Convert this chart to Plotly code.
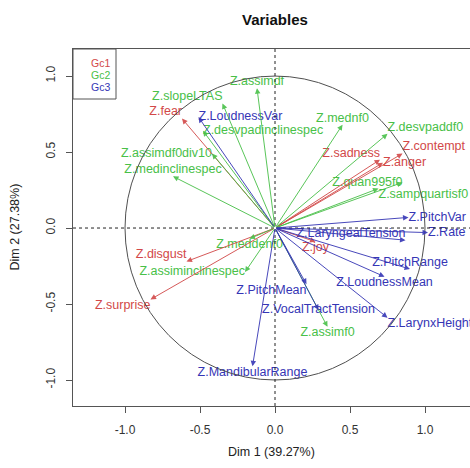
import plotly.graph_objects as go

# Correlation circle of the variables on the first two dimensions
variables = [
    "Z.fear", "Z.disgust", "Z.surprise", "Z.sadness", "Z.anger", "Z.contempt", "Z.joy",
    "Z.slopeLTAS", "Z.assimdf", "Z.desvpadinclinespec", "Z.assimdf0div10",
    "Z.medinclinespec", "Z.mednf0", "Z.desvpaddf0", "Z.quan995f0",
    "Z.sampquartisf0", "Z.meddenf0", "Z.assiminclinespec", "Z.assimf0",
    "Z.LoudnessVar", "Z.PitchVar", "Z.Rate", "Z.LaryngealTension", "Z.PitchRange",
    "Z.LoudnessMean", "Z.LarynxHeight", "Z.PitchMean", "Z.VocalTractTension",
    "Z.MandibularRange",
]
dim1 = [
    -0.62, -0.59, -0.83, 0.70, 0.72, 0.85, 0.27,
    -0.35, -0.12, -0.48, -0.42,
    -0.68, 0.45, 0.75, 0.85,
    0.69, -0.17, -0.20, 0.35,
    -0.51, 0.89, 1.02, 0.87, 0.90,
    0.73, 0.75, 0.21, 0.29,
    -0.15,
]
dim2 = [
    0.72, -0.22, -0.47, 0.45, 0.43, 0.49, -0.09,
    0.82, 0.92, 0.64, 0.49,
    0.34, 0.68, 0.62, 0.30,
    0.26, -0.07, -0.29, -0.65,
    0.73, 0.07, -0.03, -0.08, -0.27,
    -0.32, -0.59, -0.37, -0.54,
    -0.91,
]
group = [
    "Gc1", "Gc1", "Gc1", "Gc1", "Gc1", "Gc1", "Gc1",
    "Gc2", "Gc2", "Gc2", "Gc2",
    "Gc2", "Gc2", "Gc2", "Gc2",
    "Gc2", "Gc2", "Gc2", "Gc2",
    "Gc3", "Gc3", "Gc3", "Gc3", "Gc3",
    "Gc3", "Gc3", "Gc3", "Gc3",
    "Gc3",
]
groups = ["Gc1", "Gc2", "Gc3"]
x_ticks = [-1.0, -0.5, 0.0, 0.5, 1.0]
y_ticks = [-1.0, -0.5, 0.0, 0.5, 1.0]
dim1_label = "Dim 1 (39.27%)"
dim2_label = "Dim 2 (27.38%)"

colors = {"Gc1": "#d24848", "Gc2": "#48c048", "Gc3": "#3535b5"}
FONT = "Liberation Sans, Arial"

# where each variable name sits relative to its arrow tip
label_side = {
    "Z.fear": "top left", "Z.disgust": "top left", "Z.surprise": "bottom left",
    "Z.sadness": "top left", "Z.anger": "middle right", "Z.contempt": "top right",
    "Z.joy": "bottom center", "Z.slopeLTAS": "top left", "Z.assimdf": "top center",
    "Z.desvpadinclinespec": "middle right", "Z.assimdf0div10": "middle left",
    "Z.medinclinespec": "top center", "Z.mednf0": "top center",
    "Z.desvpaddf0": "top right", "Z.quan995f0": "middle left",
    "Z.sampquartisf0": "bottom right", "Z.meddenf0": "bottom center",
    "Z.assiminclinespec": "middle left", "Z.assimf0": "bottom center",
    "Z.LoudnessVar": "middle right", "Z.PitchVar": "middle right",
    "Z.Rate": "middle right", "Z.LaryngealTension": "top left",
    "Z.PitchRange": "top center", "Z.LoudnessMean": "bottom center",
    "Z.LarynxHeight": "bottom right", "Z.PitchMean": "bottom left",
    "Z.VocalTractTension": "middle center", "Z.MandibularRange": "bottom center",
}

W, H = 470, 468
ml, mr, mt, mb = 73, 0, 49, 62
x_range = [-1.3467, 1.3]
y_range = [-1.171, 1.178]

fig = go.Figure()

# variable names
for g in groups:
    idx = [i for i, gg in enumerate(group) if gg == g]
    fig.add_trace(go.Scatter(
        x=[dim1[i] for i in idx], y=[dim2[i] for i in idx],
        mode="text", text=[variables[i] for i in idx],
        textposition=[label_side[variables[i]] for i in idx],
        textfont=dict(family=FONT, size=12.5, color=colors[g]),
        showlegend=False, hoverinfo="skip", cliponaxis=False,
    ))

annotations = []
# arrows from the origin to each variable
for v, a, b, g in zip(variables, dim1, dim2, group):
    annotations.append(dict(
        x=a, y=b, ax=0, ay=0, xref="x", yref="y", axref="x", ayref="y",
        text="", showarrow=True, arrowhead=2, arrowsize=1.1, arrowwidth=1,
        arrowcolor=colors[g], opacity=0.9,
    ))

shapes = [
    # unit circle
    dict(type="circle", xref="x", yref="y", x0=-1, x1=1, y0=-1, y1=1,
         line=dict(color="#505050", width=1)),
    # reference axes
    dict(type="line", xref="paper", yref="y", x0=0, x1=1, y0=0, y1=0,
         line=dict(color="#222222", width=1, dash="3px,3px")),
    dict(type="line", xref="x", yref="paper", x0=0, x1=0, y0=0, y1=1,
         line=dict(color="#222222", width=1, dash="3px,3px")),
]

# group key in the upper-left corner
pw = W - ml - mr
ph = H - mt - mb
box_w, box_h = 43, 50
shapes.append(dict(type="rect", xref="paper", yref="paper",
                   x0=0, x1=box_w / pw, y0=1 - box_h / ph, y1=1,
                   line=dict(color="#555555", width=1), fillcolor="rgba(0,0,0,0)"))
for k, g in enumerate(groups):
    annotations.append(dict(
        x=27 / pw, y=1 - (14 + 12 * k) / ph, xref="paper", yref="paper",
        text=g, showarrow=False, xanchor="center", yanchor="middle",
        font=dict(family=FONT, size=10.5, color=colors[g]),
    ))

# titles
annotations.append(dict(x=(275 - ml) / pw, y=1 + (mt - 19) / ph, xref="paper", yref="paper",
                        text="<b>Variables</b>", showarrow=False, yanchor="middle",
                        font=dict(family=FONT, size=15, color="#111111")))
annotations.append(dict(x=0.5, y=-46 / ph, xref="paper", yref="paper", text=dim1_label,
                        showarrow=False, yanchor="middle",
                        font=dict(family=FONT, size=12.5, color="#222222")))
annotations.append(dict(x=-59 / pw, y=0.5, xref="paper", yref="paper", text=dim2_label,
                        showarrow=False, textangle=-90, xanchor="center",
                        font=dict(family=FONT, size=12.5, color="#222222")))

fig.update_layout(
    width=W, height=H,
    margin=dict(l=ml, r=mr, t=mt, b=mb),
    paper_bgcolor="white", plot_bgcolor="white",
    shapes=shapes, annotations=annotations,
    xaxis=dict(range=x_range, tickvals=x_ticks, ticktext=[f"{t:.1f}" for t in x_ticks],
               showgrid=False, zeroline=False, showline=True, mirror=True,
               linecolor="#555555", linewidth=1, ticks="outside", ticklen=6,
               ticklabelstandoff=7,
               tickcolor="#555555", tickfont=dict(family=FONT, size=12, color="#333333")),
    yaxis=dict(range=y_range, tickvals=y_ticks, ticktext=[f"{t:.1f}" for t in y_ticks],
               showgrid=False, zeroline=False, showline=True, mirror=False,
               linecolor="#555555", linewidth=1, ticks="outside", ticklen=6,
               ticklabelstandoff=6,
               tickcolor="#555555", tickangle=-90,
               tickfont=dict(family=FONT, size=12, color="#333333")),
)

fig.write_html("out.html")
